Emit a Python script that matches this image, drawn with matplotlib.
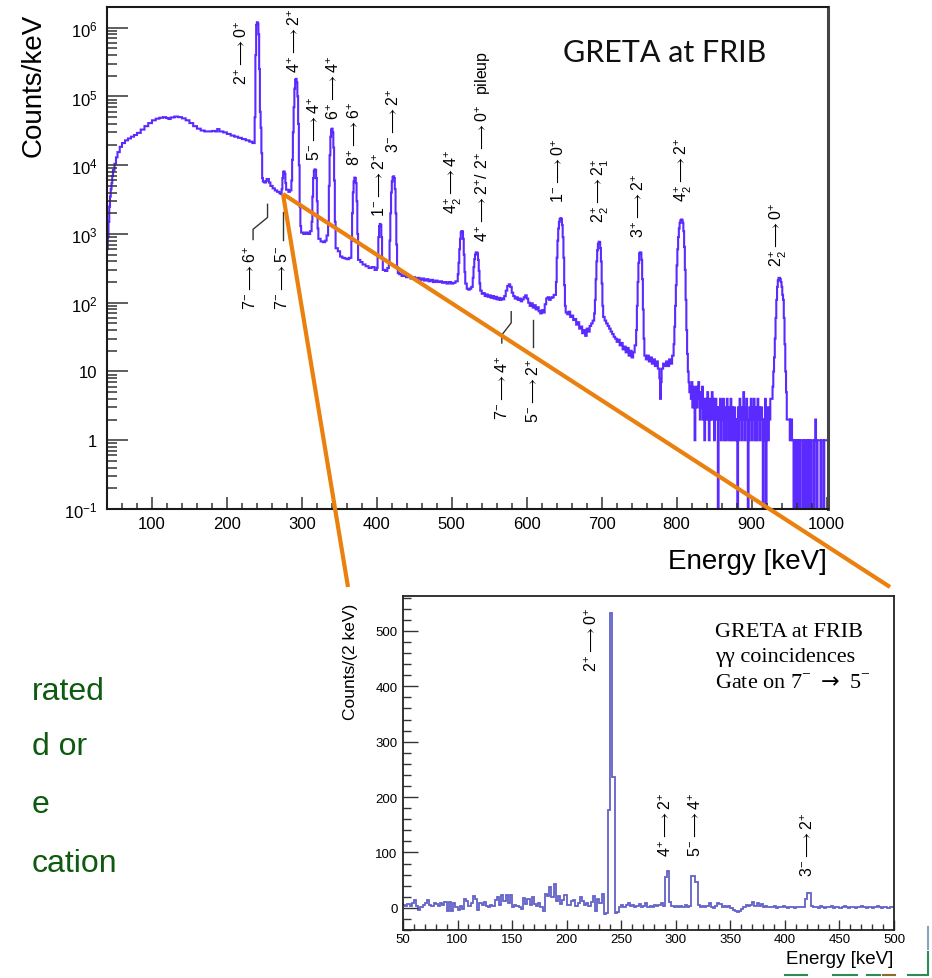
import numpy as np
import matplotlib
matplotlib.use('Agg')
import matplotlib.pyplot as plt
from matplotlib.lines import Line2D
from matplotlib.ticker import MultipleLocator, LogLocator, FuncFormatter, NullFormatter

plt.rcParams['font.family'] = ['Liberation Sans', 'DejaVu Sans']
plt.rcParams['mathtext.fontset'] = 'dejavusans'

W, H = 932, 979


def fx(px):
    return px / W


def fy(py):
    return 1 - py / H


# singles spectrum, counts/keV: (bin start energy, value)
continuum = [(40, 600), (41, 900), (42, 1500), (43, 2500), (44, 3500), (45, 4500), (46, 5500),
             (47, 7000), (48, 8500), (50, 10500), (52, 13000), (54, 15500), (57, 18500),
             (60, 21000), (64, 23000), (68, 24500), (72, 26000), (76, 27500), (80, 29500),
             (85, 33000), (90, 37000), (95, 41000), (100, 45000), (105, 47500), (110, 49000),
             (115, 50000), (119, 48500), (122, 47000), (125, 49500), (130, 51000), (135, 50000),
             (140, 48000), (145, 45000), (150, 41000), (155, 37000), (160, 34000), (165, 32000),
             (170, 31000), (175, 31000), (180, 31500), (184, 31000), (187, 33500), (190, 31000),
             (195, 30000), (200, 28500), (205, 27000), (210, 26000), (215, 25000), (220, 24000),
             (225, 23000), (230, 22000), (234, 21000)]

peaks_low = [(236, 21000), (237, 50000), (238, 400000), (239, 1100000), (240, 1200000),
             (241, 1150000), (242, 800000), (243, 250000), (244, 60000), (245, 35000),
             (246, 15000), (247, 6500), (248, 5800), (250, 5600), (252, 5900), (253, 6300),
             (256, 5600), (258, 5000), (261, 4600), (264, 4300), (267, 4100), (270, 3900),
             (272, 3800), (273, 4500), (274, 6500), (275, 8000), (276, 8100), (277, 7500),
             (278, 5500), (279, 4400), (282, 4100), (284, 4300), (286, 6000), (287, 12000),
             (288, 30000), (289, 70000), (290, 130000), (291, 175000), (292, 180000),
             (293, 160000), (294, 100000), (295, 40000), (296, 10000), (297, 2500), (298, 1300),
             (299, 1050), (302, 1000), (305, 1050), (308, 1000), (311, 1100), (313, 1500),
             (314, 3500), (315, 6500), (316, 8300), (317, 8700), (318, 8500), (319, 6500),
             (320, 3000), (321, 1200), (322, 850), (325, 780), (328, 760), (331, 800), (333, 950),
             (335, 1500), (336, 5000), (337, 14000), (338, 26000), (339, 33000), (340, 34000),
             (341, 30000), (342, 18000), (343, 6000), (344, 1500), (345, 620), (348, 560),
             (351, 470), (354, 450), (357, 440), (360, 430), (363, 450), (366, 800), (367, 2000),
             (368, 4000), (369, 5800), (370, 6600), (371, 6500), (372, 5500), (373, 3000),
             (374, 1000), (375, 420), (378, 390), (381, 360), (385, 340), (389, 320), (393, 330),
             (397, 300), (400, 320), (401, 500), (402, 900), (403, 1300), (404, 1400),
             (405, 1350), (406, 900), (407, 450), (408, 300), (411, 290), (414, 320), (416, 400),
             (417, 800), (418, 2000), (419, 4000), (420, 5800), (421, 6700), (422, 6900),
             (423, 6500), (424, 4500), (425, 2000), (426, 700), (427, 330), (428, 270)]

peaks_high = [(430, 260), (433, 245), (436, 250), (439, 235), (442, 240), (445, 225), (448, 235),
              (451, 220), (454, 230), (457, 215), (460, 225), (463, 210), (466, 220), (469, 205),
              (472, 215), (475, 200), (478, 210), (481, 200), (484, 205), (487, 195), (490, 200),
              (493, 190), (496, 200), (499, 190), (502, 195), (505, 205), (508, 260), (509, 380),
              (510, 600), (511, 850), (512, 1050), (513, 1100), (514, 1080), (515, 850),
              (516, 500), (517, 280), (518, 190), (520, 160), (522, 155), (524, 160), (526, 170),
              (528, 230), (529, 330), (530, 430), (531, 500), (532, 540), (533, 540), (534, 520),
              (535, 420), (536, 290), (537, 190), (538, 150), (540, 135), (542, 138), (544, 125),
              (546, 132), (548, 122), (550, 128), (552, 118), (554, 125), (556, 115), (558, 122),
              (560, 112), (562, 118), (564, 110), (566, 116), (568, 112), (570, 125), (572, 150),
              (574, 175), (576, 185), (578, 170), (580, 140), (582, 125), (584, 115), (586, 120),
              (588, 110), (590, 115), (592, 105), (594, 112), (596, 120), (598, 128), (600, 115),
              (602, 100), (604, 90), (606, 98), (608, 85), (610, 92), (612, 80), (614, 86),
              (616, 75), (618, 70), (620, 78), (622, 72), (624, 95), (626, 115), (628, 120),
              (630, 110), (632, 118), (634, 120), (636, 130), (639, 200), (640, 450), (641, 800),
              (642, 1200), (643, 1500), (644, 1650), (645, 1700), (646, 1650), (647, 1350),
              (648, 900), (649, 450), (650, 180), (651, 90), (652, 72), (654, 68), (656, 74),
              (658, 62), (660, 65), (662, 56), (664, 58), (666, 48), (668, 52), (670, 42),
              (672, 45), (674, 36), (676, 40), (678, 33), (680, 42), (682, 38), (684, 46),
              (686, 50), (688, 55), (690, 70), (691, 110), (692, 220), (693, 400), (694, 580),
              (695, 720), (696, 770), (697, 760), (698, 620), (699, 400), (700, 190), (701, 90),
              (702, 62), (704, 55), (706, 50), (708, 46), (710, 42), (712, 38), (714, 35),
              (716, 32), (718, 30), (720, 27), (722, 29), (724, 24), (726, 26), (728, 21),
              (730, 23), (732, 19), (734, 22), (736, 17), (738, 20), (740, 16), (742, 19),
              (744, 24), (746, 40), (747, 90), (748, 200), (749, 380), (750, 520), (751, 540),
              (752, 530), (753, 420), (754, 220), (755, 80), (756, 30), (757, 17), (759, 15),
              (761, 17), (763, 14), (765, 16), (767, 13), (769, 15), (771, 12), (773, 14),
              (775, 11), (777, 8), (778, 4), (779, 7), (780, 11), (782, 13), (784, 12), (786, 14),
              (788, 12), (790, 15), (792, 13), (794, 17), (796, 25), (797, 45), (798, 90),
              (799, 180), (800, 350), (801, 600), (802, 900), (803, 1200), (804, 1450),
              (805, 1580), (806, 1620), (807, 1600), (808, 1450), (809, 1100), (810, 650),
              (811, 300), (812, 110), (813, 40), (814, 18), (815, 10)]

tail = [(816, 7), (817, 5), (818, 6), (819, 4), (820, 7), (821, 3), (822, 6), (823, 5), (824, 1),
        (825, 4), (826, 6), (827, 3), (828, 5), (829, 7), (830, 4), (831, 2), (832, 5), (833, 3),
        (834, 6), (835, 2), (836, 4), (837, 1), (838, 3), (839, 4), (840, 2), (841, 5), (842, 3),
        (843, 1), (844, 4), (845, 2), (846, 3), (847, 5), (848, 2), (849, 4), (850, 1), (851, 3),
        (852, 4), (853, 2), (854, 3), (855, 0), (856, 3), (857, 2), (858, 4), (859, 1), (860, 3),
        (861, 2), (862, 4), (863, 1), (864, 2), (865, 3), (866, 1), (867, 4), (868, 2), (869, 3),
        (870, 1), (871, 2), (872, 4), (873, 1), (874, 3), (875, 2), (876, 1), (877, 3), (878, 2),
        (879, 1), (880, 2), (881, 0), (882, 3), (883, 1), (884, 4), (885, 2), (886, 3), (887, 1),
        (888, 2), (889, 5), (890, 3), (891, 1), (892, 2), (893, 4), (894, 2), (895, 0), (896, 1),
        (897, 3), (898, 2), (899, 4), (900, 1), (901, 3), (902, 2), (903, 4), (904, 1), (905, 2),
        (906, 3), (907, 1), (908, 4), (909, 2), (910, 3), (911, 1), (912, 2), (913, 3), (914, 2),
        (915, 0), (916, 1), (917, 2), (918, 4), (919, 0), (920, 3), (921, 2), (922, 1), (923, 3),
        (924, 2), (925, 4), (926, 4), (928, 6), (929, 10), (930, 16), (931, 30), (932, 60),
        (933, 110), (934, 170), (935, 210), (936, 230), (937, 230), (938, 220), (939, 200),
        (940, 170), (941, 130), (942, 110), (943, 60), (944, 25), (945, 10), (946, 5), (947, 2),
        (948, 2), (950, 2), (951, 1), (952, 2), (953, 2), (954, 1), (955, 1), (956, 0), (957, 1),
        (958, 1), (959, 0), (960, 1), (961, 1), (962, 0), (963, 1), (964, 0), (965, 1), (966, 1),
        (967, 1), (968, 0), (969, 1), (970, 0), (971, 1), (972, 1), (973, 0), (974, 1), (975, 1),
        (976, 0), (977, 1), (978, 0), (980, 1), (983, 0), (984, 1), (985, 2), (986, 1), (987, 0),
        (988, 1), (992, 0), (993, 1), (996, 0), (997, 1)]

e_max = 1002

# gamma-gamma spectrum gated on 7- -> 5-, counts per 2 keV from 50 keV
gated = [6, 4, 7, 3, 9, 14, 3, -3, 2, 6,
         8, 15, 6, 4, 9, 7, 3, 8, 5, 10,
         -5, 11, -6, 8, 2, -4, 3, -2, 16, 13,
         4, 9, 21, 16, -3, 8, 6, 10, 4, 2,
         6, 3, 14, 20, 5, 23, 12, 24, 9, 24,
         2, 5, 4, 2, -2, 18, 7, 16, 5, 19,
         7, 3, 8, 1, -5, 25, 22, 38, 20, 43,
         12, 22, 7, 15, 24, 6, 5, 12, 15, 3,
         9, 20, 13, 6, 8, 4, 11, 22, -6, 16,
         8, 25, -11, -9, 176, 532, 236, -10, -8, 2,
         5, 1, 6, 8, 3, 5, 1, 4, 7, 2,
         3, 8, 1, 4, 2, 6, 3, 5, 9, 4,
         55, 67, 10, 3, 2, 4, 1, 3, 2, 5,
         1, 4, 57, 57, 46, 5, 2, 3, 1, 4,
         8, 1, 0, 3, 9, 7, 2, 3, 1, 4,
         0, -3, -5, -8, -6, -2, 1, 5, 3, 6,
         10, 4, 9, 3, 7, 2, 4, 1, 2, 1,
         3, 0, 2, 1, 3, 2, 0, 1, 2, 0,
         1, 2, 1, 1, 16, 27, 27, 3, 1, 2,
         0, 3, 1, 0, 2, 1, 3, 0, 1, 2,
         0, 1, 3, 1, 0, 2, 1, 0, 2, 1,
         3, 1, 0, 2, 1, 0, 1, 3, 1, 0,
         2, 1, 0, 1, 2]

# transition labels: (label, energy, counts); ">" stands for the arrow
labels_above = [('2^{+}>0^{+}', 220, 1.5e5),
                ('4^{+}>2^{+}', 291, 2.3e5),
                ('5^{-}>4^{+}', 316.6, 1.2e4),
                ('6^{+}>4^{+}', 342, 4.7e4),
                ('8^{+}>6^{+}', 370, 1.0e4),
                ('1^{-}>2^{+}', 403.6, 1.8e3),
                ('3^{-}>2^{+}', 423, 1.55e4),
                ('4^{+}_{2}>4^{+}', 502.6, 2.0e3),
                (r'4^{+}>2^{+}/\ 2^{+}>0^{+}\ \ pileup', 542.5, 780),
                ('1^{-}>0^{+}', 643, 2.9e3),
                ('2^{+}_{2}>2^{+}_{1}', 698, 1.5e3),
                ('3^{+}>2^{+}', 750, 890),
                ('4^{+}_{2}>2^{+}', 809.6, 3.0e3),
                ('2^{+}_{2}>0^{+}', 936.5, 340)]
labels_below = [('7^{-}>6^{+}', 232, 700),
                ('7^{-}>5^{-}', 273.4, 700),
                ('7^{-}>4^{+}', 568, 17.4),
                ('5^{-}>2^{+}', 609, 16)]
pointers = [[(234.9, 830), (234.9, 1170), (254.2, 1740), (254.2, 2700)],
            [(275.4, 830), (275.4, 2100)],
            [(566.8, 26), (566.8, 34), (579.3, 51), (579.3, 74)],
            [(609, 23), (609, 56)]]
labels_gated = [('2^{+}>0^{+}', 222.8, 428),
                ('4^{+}>2^{+}', 291, 94),
                ('5^{-}>4^{+}', 318, 94),
                ('3^{-}>2^{+}', 421, 58)]


def mreg(s):
    s = s.replace('>', r'\longrightarrow')
    return r'$\mathregular{' + s + '}$'


fig = plt.figure(figsize=(W / 100, H / 100), dpi=100)

# ---- singles spectrum ----
ax = fig.add_axes([fx(107), fy(510), (828 - 107) / W, (510 - 8) / H])
spec = continuum + peaks_low + peaks_high + tail
e_lo = [p[0] for p in spec]
counts = [p[1] for p in spec]
edges = e_lo + [e_max]
ax.set_yscale('log', nonpositive='clip')
ax.stairs(counts, edges, baseline=None, color='#5a2aff', lw=1.5)
ax.set_xlim(40, e_max)
ax.set_ylim(0.1, 2.0e6)

ax.xaxis.set_major_locator(MultipleLocator(100))
ax.xaxis.set_minor_locator(MultipleLocator(20))
ax.yaxis.set_major_locator(LogLocator(base=10, numticks=20))
ax.yaxis.set_minor_locator(LogLocator(base=10, subs=np.arange(2, 10), numticks=20))


def log_label(v, pos):
    if np.isclose(v, 1):
        return '1'
    if np.isclose(v, 10):
        return '10'
    return r'$\mathregular{10^{%d}}$' % int(round(np.log10(v)))


ax.yaxis.set_major_formatter(FuncFormatter(log_label))
ax.yaxis.set_minor_formatter(NullFormatter())
ax.tick_params(which='both', direction='in', top=False, right=False, labelsize=12,
               width=1.1, color='#333333')
ax.tick_params(axis='y', which='major', length=15, pad=7)
ax.tick_params(axis='y', which='minor', length=7)
ax.tick_params(axis='x', which='major', length=9, pad=5)
ax.tick_params(axis='x', which='minor', length=4.5)
for side in ['left', 'bottom', 'top']:
    ax.spines[side].set_linewidth(1.5)
    ax.spines[side].set_color('#1a1a1a')
ax.spines['right'].set_linewidth(2.2)
ax.spines['right'].set_color('#444444')

for txt, e, c in labels_above:
    ax.text(e, c, mreg(txt), rotation=90, ha='center', va='bottom', fontsize=11.5)
for txt, e, c in labels_below:
    ax.text(e, c, mreg(txt), rotation=90, ha='center', va='top', fontsize=11.5)
for pts in pointers:
    ax.plot([p[0] for p in pts], [p[1] for p in pts], color='#333333', lw=1.0)

fig.text(fx(34), fy(85), 'Counts/keV', rotation=90, ha='center', va='center', fontsize=20)
fig.text(fx(827), fy(562), 'Energy [keV]', ha='right', va='center', fontsize=20)
fig.text(fx(563), fy(62), 'GRETA at FRIB', fontsize=22, family=['Lato', 'DejaVu Sans'],
         color='#111111', va='baseline')

# ---- gated spectrum ----
ax2 = fig.add_axes([fx(403), fy(931), (894 - 403) / W, (931 - 597) / H])
g_edges = 50 + 2 * np.arange(len(gated) + 1)
ax2.stairs(gated, g_edges, baseline=None, color='#6262c8', lw=1.3)
ax2.set_xlim(50, 500)
ax2.set_ylim(-40, 563)
ax2.xaxis.set_major_locator(MultipleLocator(50))
ax2.xaxis.set_minor_locator(MultipleLocator(10))
ax2.yaxis.set_major_locator(MultipleLocator(100))
ax2.yaxis.set_minor_locator(MultipleLocator(20))
ax2.tick_params(which='both', direction='in', top=False, right=False, labelsize=9.5,
                width=1.0, color='#333333')
ax2.tick_params(axis='y', which='major', length=11, pad=4)
ax2.tick_params(axis='y', which='minor', length=5.5)
ax2.tick_params(axis='x', which='major', length=7, pad=2)
ax2.tick_params(axis='x', which='minor', length=4)
for side in ax2.spines:
    ax2.spines[side].set_linewidth(1.3)
    ax2.spines[side].set_color('#222222')

for txt, e, c in labels_gated:
    ax2.text(e, c, mreg(txt), rotation=90, ha='center', va='bottom', fontsize=11.5)

fig.text(fx(350), fy(662), 'Counts/(2 keV)', rotation=90, ha='center', va='center', fontsize=12.5)
fig.text(fx(893), fy(960), 'Energy [keV]', ha='right', va='center', fontsize=13.5)
serif = ['Liberation Serif', 'DejaVu Serif']
fig.text(fx(715), fy(637), 'GRETA at FRIB', family=serif, fontsize=16, va='baseline')
fig.text(fx(715), fy(662), '\u03b3\u03b3 coincidences', family=serif, fontsize=16, va='baseline')
fig.text(fx(715), fy(689), r'Gate on 7$^{\mathregular{-}}$ $\rightarrow$ 5$^{\mathregular{-}}$',
         family=serif, fontsize=16, va='baseline')

# ---- zoom lines from the 7- -> 5- peak to the gated panel ----
orange = '#ea800e'
fig.add_artist(Line2D([fx(283), fx(348)], [fy(195), fy(588)], color=orange, lw=3,
                      solid_capstyle='butt', zorder=10))
fig.add_artist(Line2D([fx(283), fx(890)], [fy(195), fy(588)], color=orange, lw=3,
                      solid_capstyle='butt', zorder=10))

# ---- slide text on the left ----
green = '#0e5a10'
for word, base in [('rated', 700), ('d or', 755), ('e', 813), ('cation', 872)]:
    fig.text(fx(32), fy(base), word, color=green, fontsize=23, va='baseline')

# slide frame pieces at the lower right
fig.add_artist(Line2D([fx(928), fx(928)], [fy(928), fy(950)], color='#8aa2ba', lw=1.5))
fig.add_artist(Line2D([fx(928), fx(928)], [fy(953), fy(974)], color='#2e8b57', lw=1.5))
for x0, x1, col in [(785, 807, '#2e8b57'), (833, 857, '#2e8b57'), (867, 880, '#2e8b57'),
                    (883, 895, '#8b6b2b'), (908, 928, '#2e8b57')]:
    fig.add_artist(Line2D([fx(x0), fx(x1)], [fy(976), fy(976)], color=col, lw=1.5))

fig.savefig('out.png', dpi=100)
